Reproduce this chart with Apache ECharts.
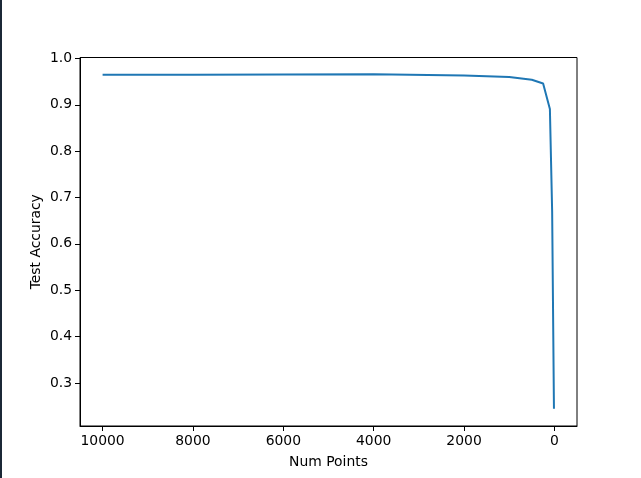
<!DOCTYPE html>
<html>
<head>
<meta charset="utf-8">
<script src="https://cdn.jsdelivr.net/npm/echarts@6/dist/echarts.min.js"></script>
<style>
html,body{margin:0;padding:0;background:#fff;}
#chart{width:641px;height:478px;}
</style>
</head>
<body>
<div id="chart"></div>
<script>
const numPoints = [10000, 8000, 4000, 2000, 1000, 500, 250, 100, 50, 10];
const testAccuracy = [0.965, 0.965, 0.966, 0.963, 0.960, 0.954, 0.946, 0.891, 0.670, 0.244];
const xTicks = [0, 2000, 4000, 6000, 8000, 10000];
const yTicks = [0.3, 0.4, 0.5, 0.6, 0.7, 0.8, 0.9, 1.0];

const font = 'DejaVu Sans';
const chart = echarts.init(document.getElementById('chart'), null, {renderer: 'canvas'});
chart.setOption({
  animation: false,
  backgroundColor: '#fff',
  graphic: [{
    type: 'rect', left: 0, top: 0, z: 100,
    shape: {x: 0, y: 0, width: 2, height: 478},
    style: {fill: '#1b2836'}
  }],
  grid: {left: 80, right: 64, top: 57.5, bottom: 52, show: true, borderColor: '#000', borderWidth: 1, containLabel: false},
  xAxis: {
    type: 'value', inverse: true, min: -500, max: 10500,
    name: 'Num Points', nameLocation: 'middle', nameGap: 29,
    nameTextStyle: {fontFamily: font, fontSize: 13.9, color: '#000'},
    axisLine: {show: true, onZero: false, lineStyle: {color: '#000', width: 1}},
    axisTick: {show: true, length: 5, customValues: xTicks, lineStyle: {color: '#000', width: 1}},
    axisLabel: {customValues: xTicks, margin: 8, fontFamily: font, fontSize: 13.9, color: '#000',
      formatter: v => String(v)},
    splitLine: {show: false}
  },
  yAxis: {
    type: 'value', min: 0.207, max: 1.002,
    name: 'Test Accuracy', nameLocation: 'middle', nameGap: 37, nameMoveOverlap: false,
    nameTextStyle: {fontFamily: font, fontSize: 13.9, color: '#000'},
    axisLine: {show: true, onZero: false, lineStyle: {color: '#000', width: 1}},
    axisTick: {show: true, length: 5, customValues: yTicks, lineStyle: {color: '#000', width: 1}},
    axisLabel: {customValues: yTicks, margin: 8, fontFamily: font, fontSize: 13.9, color: '#000',
      formatter: v => v.toFixed(1)},
    splitLine: {show: false}
  },
  series: [{
    type: 'line',
    data: numPoints.map((x, i) => [x, testAccuracy[i]]),
    showSymbol: false,
    lineStyle: {color: '#1f77b4', width: 2},
    itemStyle: {color: '#1f77b4'}
  }]
});
</script>
</body>
</html>
